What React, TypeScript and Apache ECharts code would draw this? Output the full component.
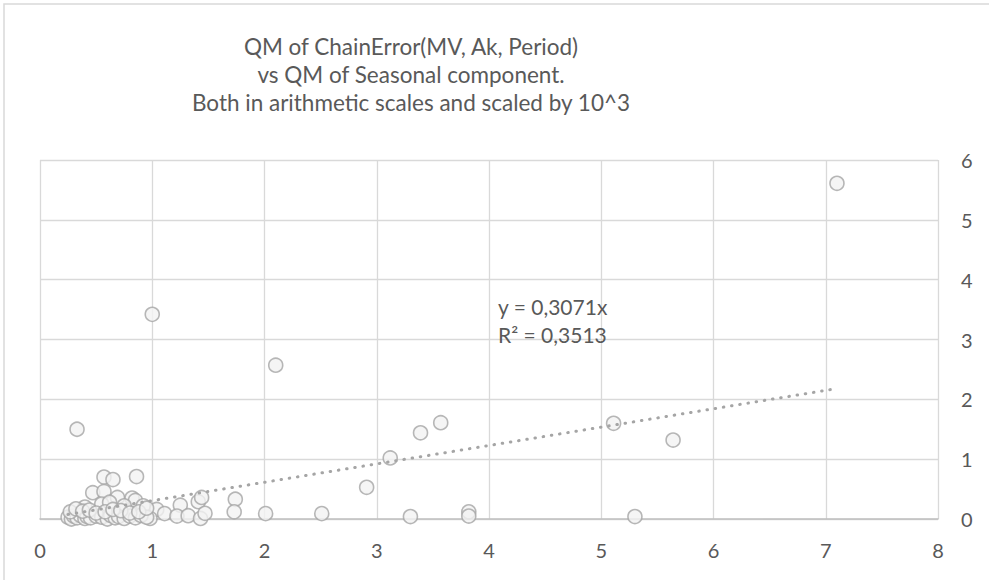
import React, { useEffect, useRef } from "react";
import * as echarts from "echarts";

const titleLines = [
  "QM of ChainError(MV, Ak, Period)",
  "vs QM of Seasonal component.",
  "Both in arithmetic scales and scaled by 10^3",
];

// QM of Seasonal component (x) and QM of ChainError (y), both scaled by 10^3
const xValues = [
  7.1, 1.0, 2.1, 0.33, 3.39, 3.57, 5.11, 5.64, 3.12, 2.91, 2.51, 3.3, 3.82, 3.82, 5.3,
  2.01, 1.74, 1.73,
  0.57, 0.65, 0.86, 0.47, 0.57, 0.69, 0.82, 0.85, 0.55, 0.62, 0.75, 0.92, 0.4,
  1.25, 1.41, 1.44, 1.04, 1.11, 1.22, 1.32, 1.43, 1.47, 0.98,
  0.25, 0.28, 0.3, 0.33, 0.36, 0.4, 0.42, 0.45, 0.5, 0.55, 0.6, 0.63, 0.67, 0.7,
  0.75, 0.8, 0.85, 0.9, 0.95,
  0.27, 0.32, 0.38, 0.44, 0.5, 0.58, 0.65, 0.72, 0.8, 0.88, 0.95,
];
const yValues = [
  5.61, 3.42, 2.57, 1.5, 1.44, 1.61, 1.6, 1.32, 1.02, 0.53, 0.09, 0.04, 0.12, 0.05, 0.04,
  0.09, 0.33, 0.12,
  0.7, 0.66, 0.71, 0.44, 0.46, 0.36, 0.35, 0.31, 0.25, 0.28, 0.22, 0.22, 0.2,
  0.23, 0.29, 0.36, 0.16, 0.09, 0.05, 0.055, 0.01, 0.095, 0.01,
  0.03, 0.0, 0.05, 0.02, 0.06, 0.01, 0.04, 0.02, 0.05, 0.03, 0.0, 0.06, 0.02, 0.04,
  0.01, 0.05, 0.02, 0.06, 0.03,
  0.12, 0.17, 0.13, 0.15, 0.1, 0.12, 0.16, 0.14, 0.1, 0.12, 0.18,
];

const trendSlope = 0.3071;
const trendR2 = 0.3513;
const xTicks = [0, 1, 2, 3, 4, 5, 6, 7, 8];
const yTicks = [0, 1, 2, 3, 4, 5, 6];

const FONT = "Lato";
const TEXT = "#595959";

export default function App() {
  const ref = useRef<HTMLDivElement>(null);
  useEffect(() => {
    if (!ref.current) return;
    const chart = echarts.init(ref.current, null, { renderer: "svg" });
    const points = xValues.map((x, i) => [x, yValues[i]]);
    const minX = Math.min(...xValues);
    const maxX = Math.max(...xValues);
    const trend = [
      [minX, trendSlope * minX],
      [maxX, trendSlope * maxX],
    ];
    const fmt = (v: number) => v.toFixed(4).replace(".", ",");
    chart.setOption({
      animation: false,
      backgroundColor: "#ffffff",
      textStyle: { fontFamily: FONT },
      graphic: [
        {
          type: "rect",
          shape: { x: 4, y: 4, width: 1000, height: 600 },
          style: { fill: "none", stroke: "#d9d9d9", lineWidth: 1.5 },
          silent: true,
        },
        {
          type: "text",
          x: 411,
          y: 32,
          style: {
            text: titleLines.join("\n"),
            fontFamily: FONT,
            fontSize: 22.5,
            lineHeight: 28,
            fill: TEXT,
            align: "center",
            verticalAlign: "top",
          },
        },
        {
          type: "text",
          x: 498,
          y: 292,
          z: 10,
          style: {
            text: "y = " + fmt(trendSlope) + "x\nR² = " + fmt(trendR2),
            fontFamily: FONT,
            fontSize: 21,
            lineHeight: 28,
            fill: TEXT,
            align: "left",
            verticalAlign: "top",
          },
        },
      ],
      grid: { left: 40, right: 51, top: 160, bottom: 61, containLabel: false },
      xAxis: {
        type: "value",
        min: xTicks[0],
        max: xTicks[xTicks.length - 1],
        interval: 1,
        axisLine: { show: true, onZero: false, lineStyle: { color: "#bfbfbf", width: 1.5 } },
        axisTick: { show: false },
        splitLine: { show: true, lineStyle: { color: "#d9d9d9", width: 1.3 } },
        axisLabel: { color: TEXT, fontSize: 20, fontFamily: FONT, margin: 21 },
      },
      yAxis: {
        type: "value",
        position: "right",
        min: yTicks[0],
        max: yTicks[yTicks.length - 1],
        interval: 1,
        axisLine: { show: false },
        axisTick: { show: false },
        splitLine: { show: true, lineStyle: { color: "#d9d9d9", width: 1.3 } },
        axisLabel: { color: TEXT, fontSize: 20, fontFamily: FONT, margin: 23 },
      },
      series: [
        {
          type: "scatter",
          data: points,
          symbol: "circle",
          symbolSize: 14,
          itemStyle: { color: "#f2f2f2", borderColor: "#a5a5a5", borderWidth: 1.6 },
          z: 2,
        },
        {
          type: "line",
          data: trend,
          symbol: "none",
          lineStyle: { color: "#a5a5a5", width: 3, type: [0.5, 7.8], cap: "round" },
          z: 3,
        },
      ],
    });
    return () => chart.dispose();
  }, []);
  return (
    <div
      ref={ref}
      style={{ position: "fixed", left: 0, top: 0, width: 989, height: 580 }}
    />
  );
}
